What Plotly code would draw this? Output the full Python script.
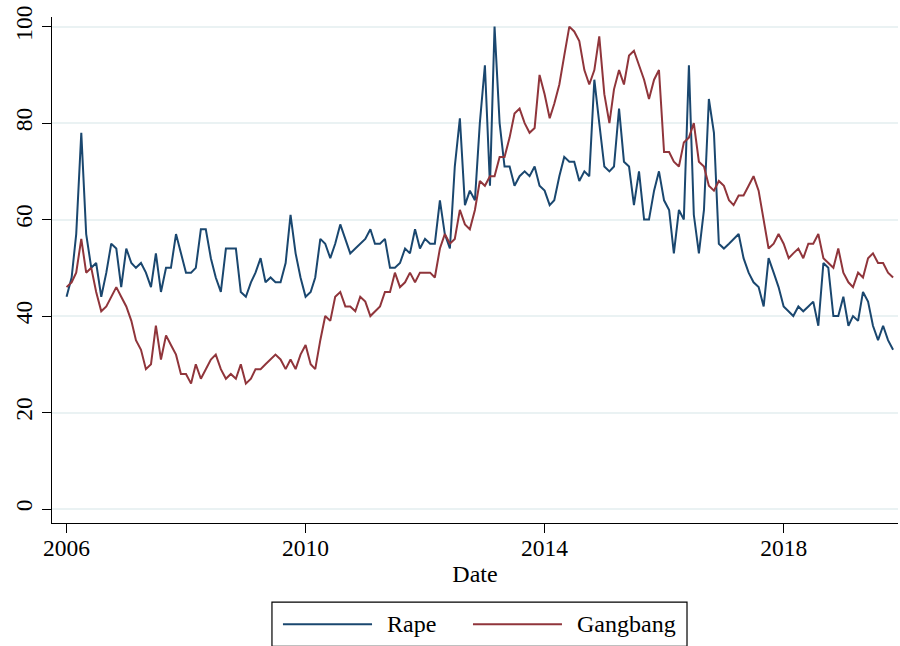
import pandas as pd
import plotly.graph_objects as go

# Monthly search-interest index, Jan 2006 – Nov 2019
start_month = "2006-01-01"

rape = [
    44, 48, 57, 78, 57, 50, 51, 44, 49, 55, 54, 46, 54, 51, 50, 51, 49, 46, 53, 45,
    50, 50, 57, 53, 49, 49, 50, 58, 58, 52, 48, 45, 54, 54, 54, 45, 44, 47, 49, 52,
    47, 48, 47, 47, 51, 61, 53, 48, 44, 45, 48, 56, 55, 52, 55, 59, 56, 53, 54, 55,
    56, 58, 55, 55, 56, 50, 50, 51, 54, 53, 58, 54, 56, 55, 55, 64, 57, 54, 71, 81,
    63, 66, 64, 80, 92, 67, 100, 80, 71, 71, 67, 69, 70, 69, 71, 67, 66, 63, 64, 69,
    73, 72, 72, 68, 70, 69, 89, 80, 71, 70, 71, 83, 72, 71, 63, 70, 60, 60, 66, 70,
    64, 62, 53, 62, 60, 92, 61, 53, 62, 85, 78, 55, 54, 55, 56, 57, 52, 49, 47, 46,
    42, 52, 49, 46, 42, 41, 40, 42, 41, 42, 43, 38, 51, 50, 40, 40, 44, 38, 40, 39,
    45, 43, 38, 35, 38, 35, 33,
]

gangbang = [
    46, 47, 49, 56, 49, 50, 45, 41, 42, 44, 46, 44, 42, 39, 35, 33, 29, 30, 38, 31,
    36, 34, 32, 28, 28, 26, 30, 27, 29, 31, 32, 29, 27, 28, 27, 30, 26, 27, 29, 29,
    30, 31, 32, 31, 29, 31, 29, 32, 34, 30, 29, 35, 40, 39, 44, 45, 42, 42, 41, 44,
    43, 40, 41, 42, 45, 45, 49, 46, 47, 49, 47, 49, 49, 49, 48, 54, 57, 55, 56, 62,
    59, 58, 62, 68, 67, 69, 69, 73, 73, 77, 82, 83, 80, 78, 79, 90, 86, 81, 84, 88,
    94, 100, 99, 97, 91, 88, 91, 98, 86, 80, 87, 91, 88, 94, 95, 92, 89, 85, 89, 91,
    74, 74, 72, 71, 76, 77, 80, 72, 71, 67, 66, 68, 67, 64, 63, 65, 65, 67, 69, 66,
    60, 54, 55, 57, 55, 52, 53, 54, 52, 55, 55, 57, 52, 51, 50, 54, 49, 47, 46, 49,
    48, 52, 53, 51, 51, 49, 48,
]

series_names = ["Rape", "Gangbang"]
series_colors = ["#1a476f", "#90353b"]
x_ticks = ["2006-01-01", "2010-01-01", "2014-01-01", "2018-01-01"]
x_tick_labels = ["2006", "2010", "2014", "2018"]
y_ticks = [0, 20, 40, 60, 80, 100]

dates = pd.date_range(start_month, periods=len(rape), freq="MS")

FONT = "Liberation Serif, Times New Roman, serif"
TICK_SIZE = 23.5
TEXT_SIZE = 24

fig = go.Figure()
for name, vals, col in zip(series_names, [rape, gangbang], series_colors):
    fig.add_trace(go.Scatter(
        x=dates, y=vals, mode="lines", name=name,
        line=dict(color=col, width=2), showlegend=False,
    ))

fig.update_layout(
    width=900, height=646,
    margin=dict(l=52, r=2, t=17, b=123),
    paper_bgcolor="white", plot_bgcolor="white",
    font=dict(family=FONT, size=TEXT_SIZE, color="black"),
)

fig.update_xaxes(
    type="date",
    range=["2005-10-04", "2019-12-01"],
    tickvals=x_ticks, ticktext=x_tick_labels,
    showgrid=False, zeroline=False,
    showline=True, linecolor="black", linewidth=1.3,
    ticks="outside", ticklen=9, tickwidth=1.3, tickcolor="black",
    ticklabelstandoff=-5,
    title=dict(text="Date", standoff=4, font=dict(size=TEXT_SIZE)),
    tickfont=dict(size=TICK_SIZE),
)

fig.update_yaxes(
    range=[-2.9, 102],
    tickvals=y_ticks,
    tickangle=-90,
    showgrid=True, gridcolor="#eaf2f3", gridwidth=2,
    zeroline=False,
    showline=True, linecolor="black", linewidth=1.3,
    ticks="outside", ticklen=9, tickwidth=1.3, tickcolor="black",
    tickfont=dict(size=TICK_SIZE),
)

# Legend panel below the plot, drawn in paper coordinates
fig.add_shape(type="rect", xref="paper", yref="paper",
              x0=0.2600, x1=0.7506, y0=-0.2436, y1=-0.1564,
              line=dict(color="black", width=1.2), fillcolor="white")
legend_items = [
    (series_names[0], series_colors[0], 0.2730, 0.3783, 0.3960),
    (series_names[1], series_colors[1], 0.4976, 0.6028, 0.6205),
]
for label, col, lx0, lx1, tx in legend_items:
    fig.add_shape(type="line", xref="paper", yref="paper",
                  x0=lx0, x1=lx1, y0=-0.2, y1=-0.2,
                  line=dict(color=col, width=2))
    fig.add_annotation(xref="paper", yref="paper", x=tx, y=-0.2,
                       text=label, showarrow=False, xanchor="left",
                       yanchor="middle", xshift=-2,
                       font=dict(size=TEXT_SIZE, family=FONT))

fig.write_html("out.html")
